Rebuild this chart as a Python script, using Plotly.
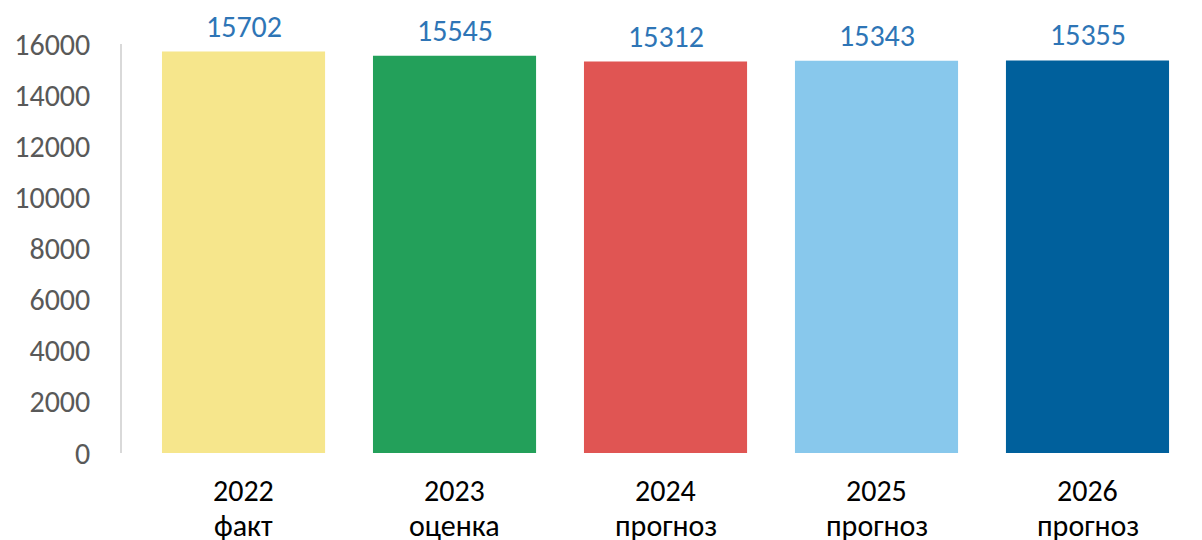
import plotly.graph_objects as go

years = ["2022", "2023", "2024", "2025", "2026"]
kinds = ["факт", "оценка", "прогноз", "прогноз", "прогноз"]
values = [15702, 15545, 15312, 15343, 15355]
colors = ["#F6E68C", "#23A05A", "#E05553", "#88C8EC", "#00609C"]
y_ticks = [0, 2000, 4000, 6000, 8000, 10000, 12000, 14000, 16000]

FONT = "Carlito, Lato, 'Open Sans', sans-serif"
cats = [f"{y} {k}" for y, k in zip(years, kinds)]

fig = go.Figure(go.Bar(x=cats, y=values, marker_color=colors, marker_line_width=0,
                       width=0.773, hoverinfo="skip"))

for c, v in zip(cats, values):
    fig.add_annotation(x=c, y=v, text=str(v), showarrow=False, yanchor="bottom",
                       yshift=5, font=dict(family=FONT, size=30, color="#2E75B6"))

# two-line category labels under the axis
for c, y, k in zip(cats, years, kinds):
    fig.add_annotation(x=c, y=0, text=y, showarrow=False, yanchor="middle",
                       yshift=-37, font=dict(family=FONT, size=30, color="#000000"))
    fig.add_annotation(x=c, y=0, text=k, showarrow=False, yanchor="middle",
                       yshift=-72, font=dict(family=FONT, size=30, color="#000000"))

# page body adds an 8px offset, so the figure is sized to fit the window
fig.update_layout(
    width=1194, height=532,
    margin=dict(l=114, r=9, t=36, b=87),
    plot_bgcolor="white", paper_bgcolor="white",
    showlegend=False,
    font=dict(family=FONT),
)
fig.update_xaxes(type="category", range=[-0.576, 4.5], showline=False, showgrid=False,
                 ticks="", showticklabels=False, automargin=False)
fig.update_yaxes(range=[0, 16000], tickvals=y_ticks, ticktext=[str(t) for t in y_ticks],
                 showgrid=False, zeroline=False, automargin=False,
                 showline=True, linecolor="#D9D9D9", linewidth=1.5, ticks="",
                 tickfont=dict(family=FONT, size=30, color="#595959"),
                 ticklabelstandoff=24)

fig.write_html("out.html")
